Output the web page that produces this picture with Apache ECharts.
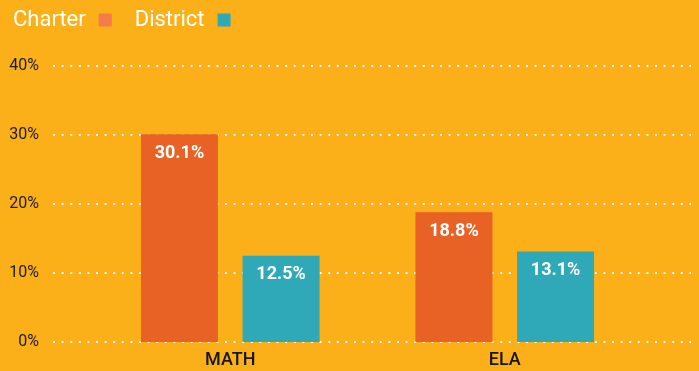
<!DOCTYPE html>
<html>
<head>
<meta charset="utf-8">
<script src="https://cdn.jsdelivr.net/npm/echarts@6/dist/echarts.min.js"></script>
<style>
  html, body { margin: 0; padding: 0; background: #FBB01A; }
  #chart { width: 699px; height: 371px; }
</style>
</head>
<body>
<div id="chart"></div>
<script>
// Proficiency rates by subject, charter vs. district schools
const categories = ['MATH', 'ELA'];
const charterValues = [30.1, 18.8];
const districtValues = [12.5, 13.1];
const yTicks = { min: 0, max: 40, interval: 10 };

const FONT = 'Roboto, "DejaVu Sans", sans-serif';

const chart = echarts.init(document.getElementById('chart'));

const valueLabel = {
  show: true,
  position: 'insideTop',
  distance: 10,
  color: '#ffffff',
  fontFamily: FONT,
  fontWeight: 'bold',
  fontSize: 18,
  formatter: p => p.value.toFixed(1) + '%'
};

chart.setOption({
  backgroundColor: '#FBB01A',
  animation: false,
  textStyle: { fontFamily: FONT },
  legend: {
    left: 8,
    top: 4,
    align: 'right',
    itemWidth: 13,
    itemHeight: 13,
    itemGap: 23,
    icon: 'rect',
    textStyle: { color: '#ffffff', fontSize: 22, fontFamily: FONT, padding: [0, 8, 0, 0] },
    data: [
      { name: 'Charter', itemStyle: { color: '#F47B4A' } },
      { name: 'District', itemStyle: { color: '#2FA8B8' } }
    ]
  },
  grid: [
    // wide grid carrying the dotted gridlines and percentage labels
    { left: 53, right: 8, top: 66, bottom: 29 },
    // narrower grid holding the bars
    { left: 93, right: 57, top: 66, bottom: 29 }
  ],
  xAxis: [
    { gridIndex: 0, type: 'category', data: categories, show: false },
    {
      gridIndex: 1,
      type: 'category',
      data: categories,
      axisLine: { show: false },
      axisTick: { show: false },
      axisLabel: { color: '#161616', fontSize: 18, fontWeight: 500, margin: 9, fontFamily: FONT }
    }
  ],
  yAxis: [
    {
      gridIndex: 0,
      type: 'value',
      min: yTicks.min,
      max: yTicks.max,
      interval: yTicks.interval,
      axisLine: { show: false },
      axisTick: { show: false },
      axisLabel: {
        color: '#1c1c1c',
        fontSize: 16,
        margin: 14,
        fontFamily: FONT,
        formatter: v => v + '%'
      },
      splitLine: {
        show: true,
        lineStyle: { color: '#ffffff', width: 2, type: [2, 6.6] }
      }
    },
    {
      gridIndex: 1,
      type: 'value',
      min: yTicks.min,
      max: yTicks.max,
      interval: yTicks.interval,
      show: false,
      splitLine: { show: false }
    }
  ],
  series: [
    {
      name: 'Charter',
      type: 'bar',
      xAxisIndex: 1,
      yAxisIndex: 1,
      data: charterValues,
      barWidth: 77,
      barGap: '32%',
      itemStyle: { color: '#E86225' },
      label: valueLabel
    },
    {
      name: 'District',
      type: 'bar',
      xAxisIndex: 1,
      yAxisIndex: 1,
      data: districtValues,
      barWidth: 77,
      barGap: '32%',
      itemStyle: { color: '#2FA8B8' },
      label: valueLabel
    }
  ]
});
</script>
</body>
</html>
